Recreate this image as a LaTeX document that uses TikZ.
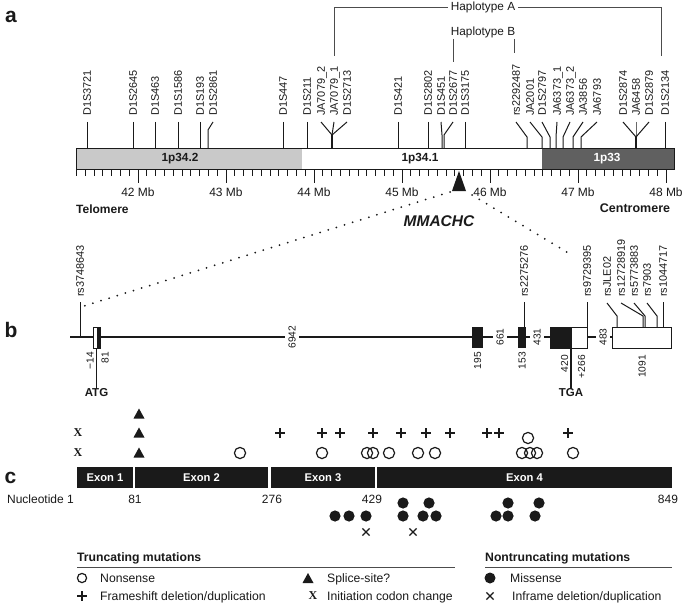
\documentclass[tikz,border=0pt]{standalone}
\usepackage{fontspec}
\setmainfont{Liberation Sans}
\newfontfamily\serifx{Liberation Serif}
\usetikzlibrary{calc}
\newcommand\fmk{\fontsize{10.9}{12}\selectfont}
\newcommand\fnum{\fontsize{10.2}{12}\selectfont}
\newcommand\fmain{\fontsize{12}{14}\selectfont}
\definecolor{lightband}{HTML}{C9C9C9}
\definecolor{darkband}{HTML}{606060}
\definecolor{ink}{HTML}{1A1A1A}
\begin{document}
\begin{tikzpicture}[x=1pt,y=-1pt,
  mk/.style={rotate=90,anchor=west,inner sep=0pt,font=\fmk,text height=7.7pt,text depth=0pt,text=ink},
  mkline/.style={line width=1pt,draw=ink},
  hapline/.style={line width=0.9pt,draw=black!70},
  vnum/.style={rotate=90,anchor=east,inner sep=0pt,font=\fnum,text height=7.2pt,text depth=0pt,text=ink},
  onl/.style={rotate=90,fill=white,inner xsep=1pt,inner ysep=3.5pt,font=\fnum,text height=7.2pt,text depth=0pt,text=ink},
  plab/.style={font=\fontsize{21}{21}\selectfont\bfseries,inner sep=0pt,text=ink},
  txt/.style={font=\fmain,inner sep=0pt,text=ink},
  btxt/.style={font=\fmain\bfseries,inner sep=0pt,text=ink},
  exlab/.style={font=\fontsize{11.2}{12}\selectfont\bfseries,text=white,inner sep=0pt},
  sym/.style={line width=1.2pt,draw=ink},
  dots/.style={line width=2pt,line cap=round,dash pattern=on 0pt off 8.5pt,draw=ink},
  gline/.style={line width=1.3pt,draw=ink},
  box/.style={line width=0.9pt,draw=ink},
  serx/.style={font=\serifx\bfseries\fontsize{12}{12}\selectfont,inner sep=0pt,text=ink},
  legt/.style={font=\fontsize{12.2}{14}\selectfont,inner sep=0pt,anchor=base west,text=ink},
  legh/.style={font=\fontsize{12.2}{14}\selectfont\bfseries,inner sep=0pt,anchor=west,text=ink},
]
\useasboundingbox (0,0) rectangle (685,607);
\fill[white] (0,0) rectangle (685,607);

% ================= panel a =================
\node[plab] (la) at (11,17) {a};
\coordinate (bartop) at (0,148);
\coordinate (barbot) at (0,169);
\fill[lightband] (76,148) rectangle (302,169);
\fill[darkband] (542,148) rectangle (674,169);
\draw[box,line width=1pt] (76,148) rectangle (674,169);
\node[btxt,font=\fontsize{11.8}{12}\selectfont\bfseries] (b1) at (180,158.5) {1p34.2};
\node[btxt,font=\fontsize{11.8}{12}\selectfont\bfseries] (b2) at (420,158.5) {1p34.1};
\node[btxt,font=\fontsize{11.8}{12}\selectfont\bfseries,text=white] (b3) at (607,158.5) {1p33};

% ruler
\foreach \i in {0,...,67} \draw[line width=0.8pt,ink] ({76.4+8.8*\i},169) -- ++(0,7);
\foreach \m in {42,...,48} {
  \draw[line width=0.8pt,ink] ({138+88*(\m-42)},169) -- ++(0,14);
  \node[txt] (mb\m) at ({138+88*(\m-42)},192.5) {\m\ Mb};
}
\node[btxt,anchor=west] (tel) at (76,209) {Telomere};
\node[btxt,font=\fontsize{12.5}{13}\selectfont\bfseries] (cen) at (635,208.5) {Centromere};

% straight markers
\foreach \t/\x in {D1S3721/87,D1S2645/133,D1S463/155,D1S1586/178,D1S193/200,D1S447/283,D1S211/307,D1S421/398,D1S2802/428,D1S3175/465,D1S2134/665} {
  \node[mk] (m\x) at (\x,116) {\t};
  \draw[mkline] ($(m\x.west)+(0,6)$) -- (m\x.west |- bartop);
}
% bent markers
\foreach \t/\x/\b/\k in {D1S2861/213/208/130,JA7079\_2/321/332/135,JA7079\_1/334/332/135,D1S2713/347/332/135,D1S451/441/442/135,D1S2677/453/444/135,rs2292487/516/527/137,JA2001/530/542/137,D1S2797/542/550/137,JA6373\_1/557/556/137,JA6373\_2/570/563/137,JA3856/583/573/137,JA6793/597/581/137,D1S2874/623/636/137,JA6458/636/636/137,D1S2879/649/636/137} {
  \node[mk] (n\x) at (\x,116) {\t};
  \coordinate (k\x) at (\b,\k);
  \draw[mkline] ($(n\x.west)+(0,6)$) -- (k\x) -- (k\x |- bartop);
}
\draw[mkline,line width=2pt] (k334) -- (k334 |- bartop);
\draw[mkline,line width=1.4pt] (k636) -- (k636 |- bartop);

% haplotypes
\node[txt,font=\fontsize{11.8}{12}\selectfont,inner xsep=3pt] (hapA) at (483,7) {Haplotype A};
\coordinate (hAl) at (334,56);
\coordinate (hAr) at (661,56);
\draw[hapline] (hapA.west) -| (hAl);
\draw[hapline] (hapA.east) -| (hAr);
\node[txt,font=\fontsize{11.8}{12}\selectfont] (hapB) at (483,32) {Haplotype B};
\coordinate (hBl0) at (453,39); \coordinate (hBl1) at (453,62);
\coordinate (hBr0) at (514,39); \coordinate (hBr1) at (514,53);
\draw[hapline] (hBl0) -- (hBl1);
\draw[hapline] (hBr0) -- (hBr1);

% MMACHC locus
\coordinate (tri) at (459,171);
\fill[ink] (tri) -- (452,191) -- (466,191) -- cycle;
\node[btxt,font=\fontsize{15.5}{16}\selectfont\bfseries\itshape] (gene) at (439,221.5) {MMACHC};
\coordinate (dl0) at (450,192); \coordinate (dl1) at (84,306);
\coordinate (dr0) at (472,195); \coordinate (dr1) at (570,254);
\draw[dots] (dl0) -- (dl1);
\draw[dots] (dr0) -- (dr1);

% ================= panel b =================
\node[plab] (lb) at (11,330) {b};
\coordinate (gl0) at (70,337);
\coordinate (gl1) at (612,337);
\draw[gline] (gl0) -- (gl1);
\coordinate (extop) at (0,327);

% rs SNP labels (straight)
\foreach \t/\x in {rs3748643/80,rs2275276/524,rs9729395/587,rs1044717/663} {
  \node[mk] (s\x) at (\x,297) {\t};
}
\draw[mkline] ($(s80.west)+(0,5)$) -- (s80.west |- gl0);
\draw[mkline] ($(s524.west)+(0,5)$) -- (s524.west |- extop);
\draw[mkline] ($(s587.west)+(0,5)$) -- (s587.west |- extop);
\draw[mkline] ($(s663.west)+(0,5)$) -- (s663.west |- extop);
% rs SNP labels (bent)
\foreach \t/\x/\b in {rsJLE02/607/617,rs12728919/621/643,rs5773883/634/645,rs7903/647/657} {
  \node[mk] (u\x) at (\x,297) {\t};
  \coordinate (q\x) at (\b,316);
  \draw[mkline] ($(u\x.west)+(0,6)$) -- (q\x) -- (q\x |- extop);
}

% exon 1
\draw[box,fill=white] (93,327) rectangle (100,348);
\fill[ink] (97,327) rectangle (100,348);
\draw[box] (93,327) rectangle (100,348);
\node[vnum] (e14) at (90,352) {−14};
\node[vnum] (e81) at (105,352) {81};
\coordinate (atg0) at (96.5,348);
\node[btxt,font=\fontsize{11.5}{12}\selectfont\bfseries] (atg) at (96.5,393) {ATG};
\draw[gline] (atg0) -- (atg.north);

\node[onl] (i1) at (292,337) {6942};
% exon 2
\fill[ink] (472,327) rectangle (483,348);
\node[vnum] (e195) at (477.5,352) {195};
\node[onl] (i2) at (500,337) {661};
% exon 3
\fill[ink] (518,327) rectangle (526,348);
\node[vnum] (e153) at (522,352) {153};
\node[onl] (i3) at (537,337) {431};
% exon 4
\fill[ink] (550,327) rectangle (571,348);
\draw[box,fill=white] (571,327) rectangle (587,348);
\draw[box] (550,327) rectangle (587,348);
\node[vnum] (e420) at (564.5,355) {420};
\node[vnum] (e266) at (581.5,355) {+266};
\coordinate (tga0) at (571,348);
\node[btxt,font=\fontsize{11.5}{12}\selectfont\bfseries] (tga) at (571,393) {TGA};
\draw[gline] (tga0) -- (tga.north);
\node[onl] (i4) at (603,337) {483};
% 3' UTR
\draw[box,fill=white] (612,327) rectangle (671,348);
\node[vnum] (e1091) at (642,355) {1091};

% ================= panel c =================
\node[plab] (lc) at (10.5,478) {c};
\fill[ink] (77,467) rectangle (133,488);
\fill[ink] (135,467) rectangle (268,488);
\fill[ink] (271,467) rectangle (375,488);
\fill[ink] (377,467) rectangle (672,488);
\node[exlab] (x1) at (105,477.5) {Exon 1};
\node[exlab] (x2) at (201.5,477.5) {Exon 2};
\node[exlab] (x3) at (323,477.5) {Exon 3};
\node[exlab] (x4) at (524.5,477.5) {Exon 4};
\node[txt,anchor=east] (nt) at (74,499) {Nucleotide 1};
\node[txt] (n81) at (135,499) {81};
\node[txt] (n276) at (272,499) {276};
\node[txt] (n429) at (372,499) {429};
\node[txt] (n849) at (668,499) {849};

% initiation codon change
\node[serx] (ix1) at (78,433) {X};
\node[serx] (ix2) at (78,453) {X};
% splice site
\foreach \y in {414,433,453}
  \fill[ink] (139,\y-5.5) -- (133.5,\y+4.5) -- (144.5,\y+4.5) -- cycle;
% frameshift
\foreach \x in {280,322,340,373,401,426,450,487,499,568}
  \draw[sym] (\x-5,433) -- (\x+5,433) (\x,428) -- (\x,438);
% nonsense
\foreach \x in {240,322,367,373,389,418,435,522,530,537,573}
  \draw[sym] (\x,453) circle[radius=5.6pt];
\draw[sym] (528,438) circle[radius=5.6pt];
% missense
\foreach \x in {403,429,508,539}
  \fill[ink] (\x,503) circle[radius=5.6pt];
\foreach \x in {335,349,366,403,423,436,496,508,535}
  \fill[ink] (\x,516) circle[radius=5.6pt];
% inframe
\foreach \x in {366,413}
  \draw[line width=1.3pt,ink] (\x-3.6,528.4) -- (\x+3.6,535.6) (\x-3.6,535.6) -- (\x+3.6,528.4);

% ================= legend =================
\node[legh] (tm) at (77,558) {Truncating mutations};
\draw[line width=0.8pt,black!70] (77,567) -- (455,567);
\node[legh] (ntm) at (485,558) {Nontruncating mutations};
\draw[line width=0.8pt,black!70] (485,567) -- (672,567);

\draw[sym] (82,578) circle[radius=4.6pt];
\node[legt] (l1) at (100,582.3) {Nonsense};
\draw[sym] (77,596) -- (87,596) (82,591) -- (82,601);
\node[legt] (l2) at (100,600.3) {Frameshift deletion/duplication};
\fill[ink] (308,573) -- (302.5,583) -- (313.5,583) -- cycle;
\node[legt] (l3) at (327,582.3) {Splice-site?};
\node[serx] (l4x) at (313,596) {X};
\node[legt] (l4) at (327,600.3) {Initiation codon change};
\fill[ink] (490,578) circle[radius=5.5pt];
\node[legt] (l5) at (510,582.3) {Missense};
\draw[line width=1.3pt,ink] (486.4,592.4) -- (493.6,599.6) (486.4,599.6) -- (493.6,592.4);
\node[legt] (l6) at (512,600.3) {Inframe deletion/duplication};
\end{tikzpicture}
\end{document}
